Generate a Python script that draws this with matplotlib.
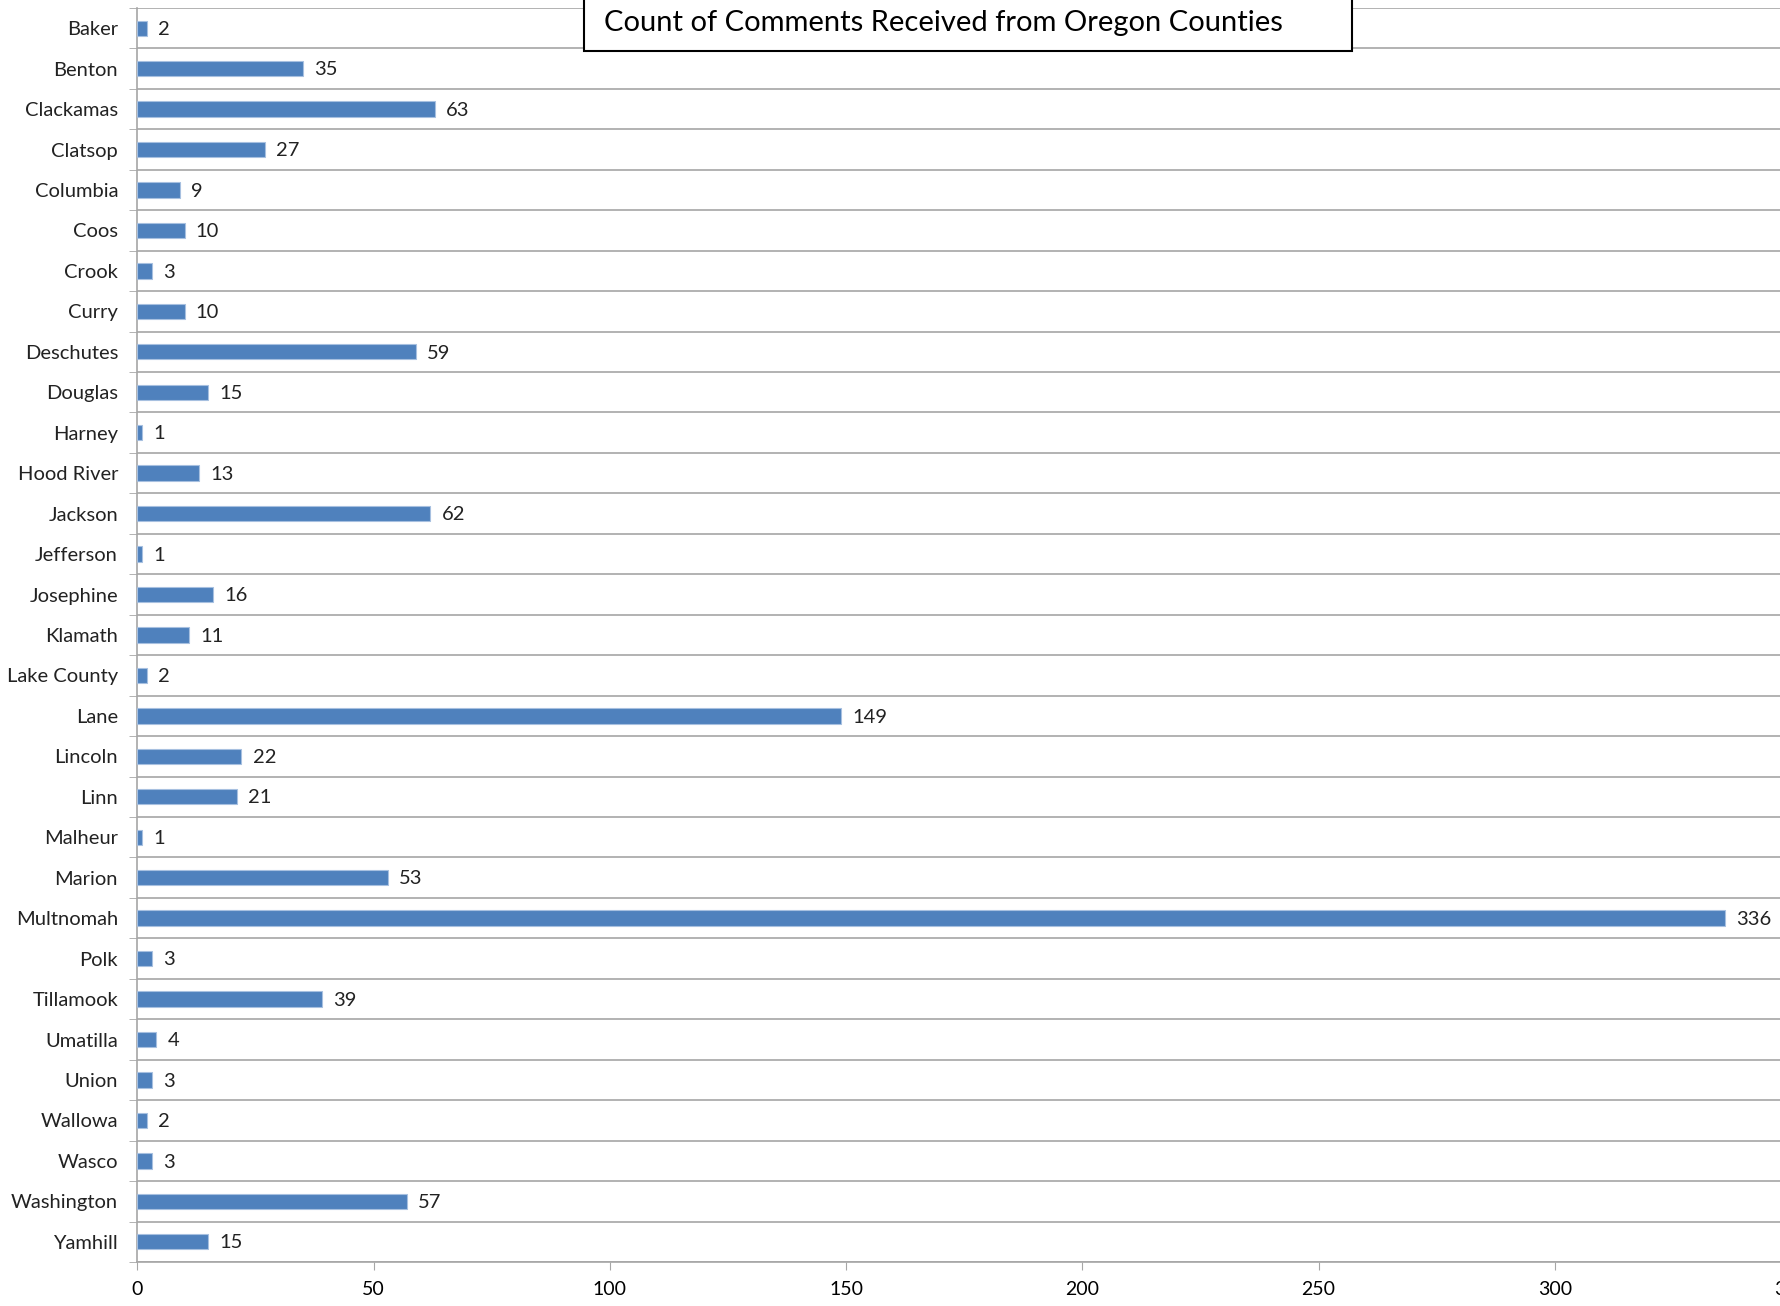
import numpy as np
import matplotlib.pyplot as plt
from matplotlib.patches import Rectangle

counties = [
    "Baker", "Benton", "Clackamas", "Clatsop", "Columbia", "Coos", "Crook",
    "Curry", "Deschutes", "Douglas", "Harney", "Hood River", "Jackson",
    "Jefferson", "Josephine", "Klamath", "Lake County", "Lane", "Lincoln",
    "Linn", "Malheur", "Marion", "Multnomah", "Polk", "Tillamook", "Umatilla",
    "Union", "Wallowa", "Wasco", "Washington", "Yamhill",
]
comments = [
    2, 35, 63, 27, 9, 10, 3, 10, 59, 15, 1, 13, 62, 1, 16, 11, 2, 149, 22,
    21, 1, 53, 336, 3, 39, 4, 3, 2, 3, 57, 15,
]
x_ticks = [0, 50, 100, 150, 200, 250, 300, 350]

plt.rcParams["font.family"] = ["Lato", "DejaVu Sans"]

fig = plt.figure(figsize=(17.81, 13.06), dpi=100)
ax = fig.add_axes([0.0772, 0.0337, 1.0056 - 0.0772, 0.9939 - 0.0337])

y = np.arange(len(counties))
bars = ax.barh(y, comments, height=0.38, color="#4F81BD",
               edgecolor="#A7C0E0", linewidth=0.8, zorder=3)

for yi, v in zip(y, comments):
    ax.annotate(str(v), (v, yi + 0.03), xytext=(8, 0), textcoords="offset points",
                va="center", ha="left", fontsize=14.5, color="#222222")

ax.set_xlim(0, 350)
ax.set_ylim(len(counties) - 0.5, -0.5)
ax.set_xticks(x_ticks)
ax.set_xticklabels([str(t) for t in x_ticks], fontsize=14)
ax.set_yticks(y)
ax.set_yticklabels(counties, fontsize=14.5, color="#222222")
ax.set_yticks(np.arange(len(counties) + 1) - 0.5, minor=True)

ax.tick_params(axis="y", which="major", length=0, pad=14)
ax.tick_params(axis="y", which="minor", length=6, color="#A6A6A6")
ax.tick_params(axis="x", length=6, color="#A6A6A6", pad=8)
ax.grid(axis="y", which="minor", color="#A6A6A6", linewidth=1.2, zorder=0)

for side in ["top", "right"]:
    ax.spines[side].set_visible(False)
for side in ["left", "bottom"]:
    ax.spines[side].set_color("#A6A6A6")
    ax.spines[side].set_linewidth(1.2)

# boxed title across the top
box = Rectangle((584 / 1781, 1 - 51 / 1306), (1352 - 584) / 1781, 0.05,
                transform=fig.transFigure, facecolor="white",
                edgecolor="black", linewidth=1.5, zorder=10)
fig.patches.append(box)
fig.text(604 / 1781, 1 - 23 / 1306,
         "Count of Comments Received from Oregon Counties",
         ha="left", va="center", fontsize=21, zorder=11)

fig.savefig("out.png", dpi=100)
